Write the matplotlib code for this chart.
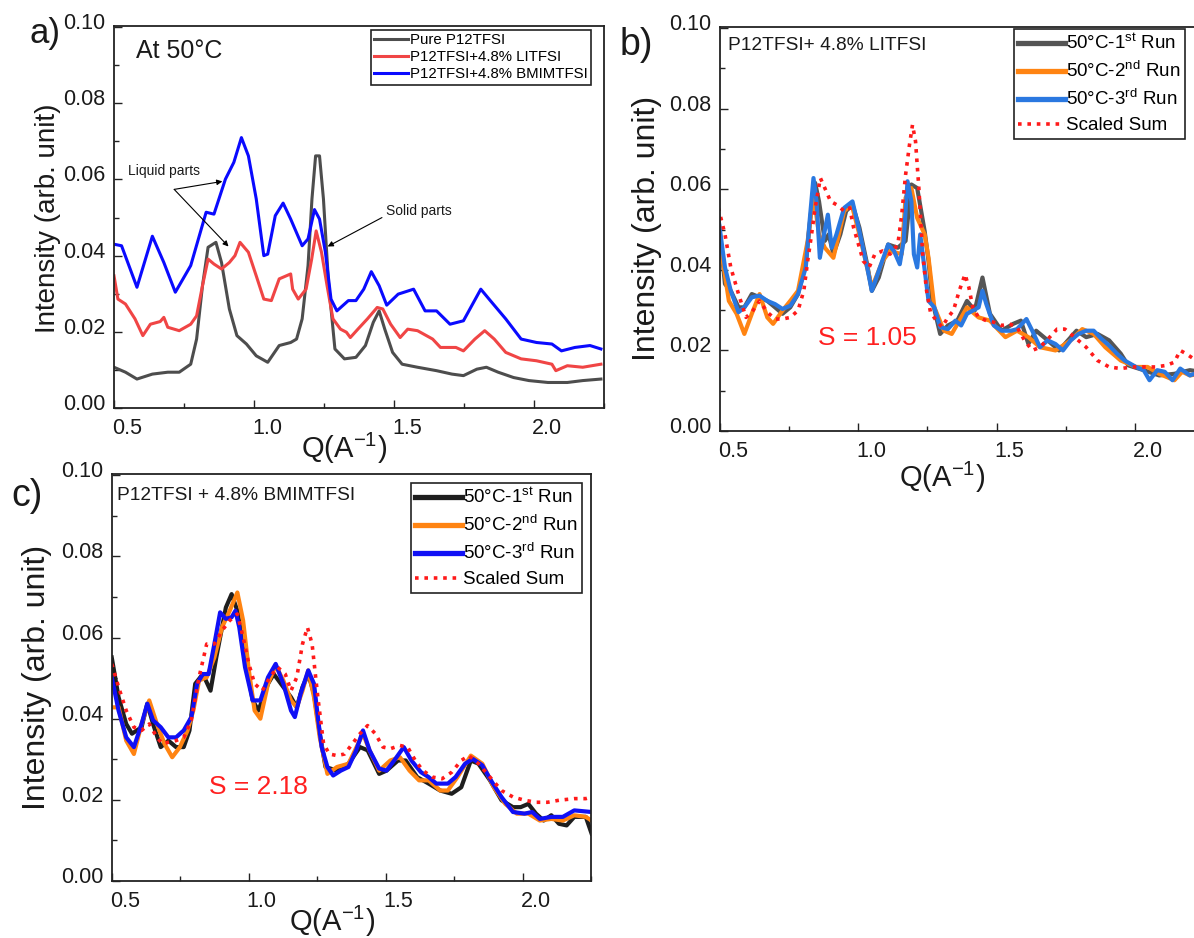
import matplotlib
matplotlib.use("Agg")
import matplotlib.pyplot as plt
from matplotlib.transforms import ScaledTranslation
from matplotlib.ticker import FixedLocator, FormatStrFormatter

plt.rcParams['font.family'] = ['Liberation Sans', 'DejaVu Sans']
plt.rcParams['mathtext.fontset'] = 'custom'
plt.rcParams['mathtext.rm'] = 'Liberation Sans'
plt.rcParams['mathtext.it'] = 'Liberation Sans:italic'
plt.rcParams['mathtext.bf'] = 'Liberation Sans:bold'

# ---------------- (a) SAXS/WAXS profiles at 50 °C ----------------
q_a_pure = [0.500, 0.541, 0.582, 0.637, 0.692, 0.733, 0.774, 0.795, 0.816, 0.836, 0.864, 0.884,
            0.912, 0.939, 0.973, 1.008, 1.049, 1.090, 1.131, 1.152, 1.172, 1.193, 1.207, 1.220,
            1.234, 1.248, 1.266, 1.289, 1.323, 1.364, 1.398, 1.426, 1.447, 1.467, 1.495, 1.529,
            1.584, 1.652, 1.707, 1.748, 1.796, 1.830, 1.872, 1.927, 1.982, 2.050, 2.119, 2.174, 2.239]
i_a_pure = [0.0107, 0.0094, 0.0076, 0.0089, 0.0094, 0.0094, 0.0115, 0.0181, 0.0321, 0.0422, 0.0435, 0.0382,
            0.0260, 0.0190, 0.0168, 0.0137, 0.0120, 0.0164, 0.0172, 0.0181, 0.0234, 0.0374, 0.0549, 0.0662,
            0.0662, 0.0549, 0.0330, 0.0155, 0.0129, 0.0133, 0.0164, 0.0225, 0.0255, 0.0207, 0.0146, 0.0115,
            0.0107, 0.0098, 0.0089, 0.0085, 0.0102, 0.0107, 0.0094, 0.0080, 0.0072, 0.0067, 0.0067, 0.0072, 0.0076]

q_a_li = [0.500, 0.514, 0.541, 0.575, 0.603, 0.630, 0.665, 0.678, 0.692, 0.733, 0.774, 0.795, 0.816,
          0.836, 0.857, 0.884, 0.912, 0.932, 0.950, 0.980, 1.008, 1.035, 1.062, 1.090, 1.131, 1.138,
          1.158, 1.186, 1.206, 1.222, 1.241, 1.261, 1.282, 1.309, 1.330, 1.344, 1.371, 1.405, 1.440,
          1.460, 1.488, 1.522, 1.549, 1.584, 1.638, 1.666, 1.721, 1.748, 1.789, 1.824, 1.858, 1.899,
          1.954, 2.009, 2.064, 2.078, 2.119, 2.174, 2.239]
i_a_li = [0.0347, 0.0286, 0.0273, 0.0234, 0.0190, 0.0220, 0.0227, 0.0238, 0.0212, 0.0203, 0.0220, 0.0242, 0.0321,
          0.0391, 0.0378, 0.0365, 0.0382, 0.0400, 0.0435, 0.0409, 0.0347, 0.0286, 0.0282, 0.0339, 0.0352, 0.0312,
          0.0286, 0.0312, 0.0391, 0.0465, 0.0409, 0.0321, 0.0234, 0.0207, 0.0199, 0.0185, 0.0207, 0.0234, 0.0264,
          0.0260, 0.0220, 0.0185, 0.0207, 0.0203, 0.0181, 0.0159, 0.0159, 0.0150, 0.0181, 0.0203, 0.0181, 0.0146,
          0.0129, 0.0124, 0.0115, 0.0098, 0.0111, 0.0107, 0.0115]

q_a_bmim = [0.500, 0.527, 0.582, 0.637, 0.678, 0.719, 0.774, 0.829, 0.857, 0.898, 0.928, 0.955, 0.980,
            1.008, 1.035, 1.049, 1.076, 1.104, 1.131, 1.172, 1.193, 1.216, 1.234, 1.255, 1.275, 1.296,
            1.337, 1.364, 1.392, 1.419, 1.447, 1.474, 1.515, 1.570, 1.611, 1.652, 1.700, 1.748, 1.810,
            1.844, 1.899, 1.954, 2.009, 2.064, 2.098, 2.146, 2.200, 2.239]
i_a_bmim = [0.0430, 0.0426, 0.0317, 0.0451, 0.0382, 0.0304, 0.0374, 0.0514, 0.0509, 0.0601, 0.0645, 0.0710, 0.0662,
            0.0549, 0.0400, 0.0404, 0.0505, 0.0538, 0.0496, 0.0426, 0.0444, 0.0521, 0.0496, 0.0409, 0.0286, 0.0255,
            0.0282, 0.0282, 0.0312, 0.0358, 0.0321, 0.0270, 0.0299, 0.0312, 0.0255, 0.0255, 0.0220, 0.0229, 0.0312,
            0.0282, 0.0234, 0.0181, 0.0172, 0.0168, 0.0150, 0.0159, 0.0164, 0.0155]

labels_a = ['Pure P12TFSI', 'P12TFSI+4.8% LITFSI', 'P12TFSI+4.8% BMIMTFSI']

# ---------------- (b) P12TFSI + 4.8% LiTFSI, repeated runs ----------------
q_b_run1 = [0.494, 0.518, 0.539, 0.567, 0.588, 0.615, 0.643, 0.671, 0.699, 0.726, 0.754, 0.782, 0.810,
            0.828, 0.844, 0.858, 0.879, 0.893, 0.910, 0.935, 0.956, 0.979, 1.004, 1.032, 1.049, 1.074,
            1.108, 1.143, 1.171, 1.192, 1.213, 1.240, 1.254, 1.268, 1.296, 1.324, 1.358, 1.393, 1.421,
            1.449, 1.476, 1.518, 1.560, 1.588, 1.615, 1.643, 1.685, 1.726, 1.789, 1.824, 1.865, 1.907,
            1.949, 1.976, 2.032, 2.088, 2.143, 2.199, 2.238]
i_b_run1 = [0.0529, 0.0365, 0.0348, 0.0307, 0.0307, 0.0340, 0.0332, 0.0323, 0.0307, 0.0291, 0.0307, 0.0340, 0.0414,
            0.0537, 0.0616, 0.0570, 0.0472, 0.0488, 0.0439, 0.0488, 0.0546, 0.0562, 0.0505, 0.0414, 0.0348, 0.0381,
            0.0463, 0.0455, 0.0472, 0.0612, 0.0603, 0.0496, 0.0422, 0.0323, 0.0241, 0.0262, 0.0274, 0.0323, 0.0299,
            0.0381, 0.0291, 0.0249, 0.0266, 0.0274, 0.0216, 0.0249, 0.0225, 0.0200, 0.0249, 0.0233, 0.0241, 0.0225,
            0.0192, 0.0163, 0.0151, 0.0138, 0.0142, 0.0151, 0.0147]

q_b_run2 = [0.494, 0.532, 0.560, 0.588, 0.615, 0.643, 0.671, 0.692, 0.726, 0.754, 0.782, 0.817, 0.838,
            0.858, 0.879, 0.910, 0.949, 0.976, 1.004, 1.049, 1.088, 1.115, 1.157, 1.171, 1.192, 1.213,
            1.240, 1.254, 1.275, 1.310, 1.338, 1.393, 1.435, 1.476, 1.504, 1.532, 1.574, 1.615, 1.657,
            1.713, 1.768, 1.810, 1.851, 1.893, 1.949, 2.004, 2.046, 2.088, 2.143, 2.171, 2.199, 2.238]
i_b_run2 = [0.0496, 0.0323, 0.0291, 0.0241, 0.0291, 0.0340, 0.0282, 0.0266, 0.0299, 0.0323, 0.0348, 0.0472, 0.0587,
            0.0488, 0.0455, 0.0430, 0.0546, 0.0562, 0.0488, 0.0356, 0.0422, 0.0447, 0.0439, 0.0579, 0.0603, 0.0529,
            0.0488, 0.0430, 0.0307, 0.0249, 0.0241, 0.0307, 0.0282, 0.0274, 0.0253, 0.0233, 0.0249, 0.0233, 0.0208,
            0.0200, 0.0225, 0.0253, 0.0241, 0.0208, 0.0175, 0.0159, 0.0159, 0.0142, 0.0126, 0.0147, 0.0138, 0.0142]

q_b_run3 = [0.494, 0.518, 0.539, 0.567, 0.588, 0.615, 0.643, 0.671, 0.699, 0.726, 0.754, 0.782, 0.810,
            0.824, 0.838, 0.849, 0.861, 0.876, 0.890, 0.904, 0.921, 0.949, 0.979, 1.004, 1.032, 1.049,
            1.074, 1.108, 1.129, 1.150, 1.164, 1.178, 1.192, 1.201, 1.213, 1.224, 1.233, 1.254, 1.275,
            1.296, 1.324, 1.351, 1.372, 1.393, 1.414, 1.435, 1.449, 1.463, 1.490, 1.518, 1.553, 1.574,
            1.608, 1.629, 1.657, 1.685, 1.713, 1.740, 1.768, 1.796, 1.824, 1.851, 1.879, 1.907, 1.935,
            1.963, 2.004, 2.032, 2.053, 2.081, 2.108, 2.136, 2.164, 2.199, 2.238]
i_b_run3 = [0.0529, 0.0406, 0.0348, 0.0295, 0.0307, 0.0332, 0.0336, 0.0323, 0.0315, 0.0303, 0.0311, 0.0340, 0.0406,
            0.0521, 0.0628, 0.0570, 0.0430, 0.0488, 0.0537, 0.0455, 0.0488, 0.0554, 0.0570, 0.0496, 0.0406, 0.0348,
            0.0398, 0.0463, 0.0447, 0.0414, 0.0472, 0.0620, 0.0570, 0.0439, 0.0406, 0.0488, 0.0439, 0.0323, 0.0307,
            0.0258, 0.0253, 0.0274, 0.0262, 0.0291, 0.0299, 0.0307, 0.0348, 0.0315, 0.0262, 0.0249, 0.0249, 0.0253,
            0.0278, 0.0249, 0.0208, 0.0225, 0.0216, 0.0200, 0.0225, 0.0241, 0.0249, 0.0249, 0.0229, 0.0212, 0.0192,
            0.0175, 0.0159, 0.0151, 0.0126, 0.0151, 0.0147, 0.0126, 0.0155, 0.0138, 0.0147]

q_b_sum = [0.494, 0.518, 0.539, 0.567, 0.594, 0.615, 0.643, 0.671, 0.699, 0.726, 0.754, 0.782, 0.803,
           0.817, 0.831, 0.844, 0.863, 0.879, 0.900, 0.921, 0.949, 0.969, 0.983, 0.997, 1.018, 1.039,
           1.060, 1.088, 1.115, 1.143, 1.157, 1.171, 1.185, 1.196, 1.207, 1.219, 1.233, 1.247, 1.261,
           1.282, 1.303, 1.324, 1.344, 1.365, 1.386, 1.400, 1.414, 1.435, 1.463, 1.490, 1.518, 1.546,
           1.574, 1.601, 1.629, 1.657, 1.692, 1.719, 1.747, 1.782, 1.824, 1.865, 1.907, 1.949, 1.990,
           2.032, 2.074, 2.115, 2.143, 2.164, 2.185, 2.213, 2.238]
i_b_sum = [0.0554, 0.0488, 0.0406, 0.0340, 0.0282, 0.0295, 0.0323, 0.0295, 0.0278, 0.0278, 0.0282, 0.0299, 0.0348,
           0.0422, 0.0488, 0.0554, 0.0628, 0.0603, 0.0570, 0.0562, 0.0546, 0.0554, 0.0505, 0.0472, 0.0422, 0.0406,
           0.0439, 0.0447, 0.0439, 0.0463, 0.0537, 0.0636, 0.0710, 0.0760, 0.0719, 0.0603, 0.0439, 0.0348, 0.0295,
           0.0274, 0.0258, 0.0282, 0.0299, 0.0348, 0.0389, 0.0356, 0.0307, 0.0282, 0.0274, 0.0270, 0.0262, 0.0266,
           0.0258, 0.0225, 0.0200, 0.0208, 0.0233, 0.0253, 0.0253, 0.0233, 0.0208, 0.0175, 0.0159, 0.0155, 0.0159,
           0.0159, 0.0159, 0.0163, 0.0171, 0.0200, 0.0192, 0.0179, 0.0184]
s_b = 1.05

# ---------------- (c) P12TFSI + 4.8% BMIMTFSI, repeated runs ----------------
q_c_run1 = [0.499, 0.524, 0.552, 0.573, 0.608, 0.629, 0.650, 0.678, 0.706, 0.734, 0.762, 0.783, 0.804,
            0.832, 0.860, 0.881, 0.916, 0.937, 0.958, 0.986, 1.014, 1.035, 1.070, 1.091, 1.126, 1.154,
            1.175, 1.196, 1.217, 1.238, 1.259, 1.280, 1.322, 1.364, 1.406, 1.434, 1.476, 1.503, 1.545,
            1.573, 1.615, 1.657, 1.699, 1.741, 1.776, 1.811, 1.839, 1.881, 1.923, 1.965, 1.993, 2.021,
            2.049, 2.077, 2.105, 2.133, 2.161, 2.189, 2.231, 2.252]
i_c_run1 = [0.0551, 0.0453, 0.0387, 0.0363, 0.0379, 0.0437, 0.0387, 0.0330, 0.0346, 0.0330, 0.0330, 0.0371, 0.0486,
            0.0510, 0.0469, 0.0551, 0.0674, 0.0707, 0.0666, 0.0551, 0.0445, 0.0420, 0.0486, 0.0510, 0.0478, 0.0453,
            0.0428, 0.0478, 0.0510, 0.0461, 0.0363, 0.0281, 0.0272, 0.0289, 0.0330, 0.0322, 0.0264, 0.0272, 0.0297,
            0.0297, 0.0256, 0.0240, 0.0223, 0.0215, 0.0231, 0.0297, 0.0289, 0.0248, 0.0199, 0.0182, 0.0182, 0.0190,
            0.0166, 0.0149, 0.0162, 0.0141, 0.0137, 0.0158, 0.0158, 0.0117]

q_c_run2 = [0.499, 0.524, 0.552, 0.580, 0.608, 0.636, 0.664, 0.692, 0.720, 0.748, 0.776, 0.797, 0.818,
            0.846, 0.874, 0.902, 0.930, 0.958, 0.979, 1.000, 1.021, 1.042, 1.070, 1.098, 1.126, 1.154,
            1.175, 1.196, 1.217, 1.238, 1.259, 1.287, 1.322, 1.364, 1.417, 1.441, 1.476, 1.517, 1.552,
            1.587, 1.622, 1.657, 1.699, 1.727, 1.762, 1.811, 1.853, 1.895, 1.937, 1.979, 2.021, 2.063,
            2.105, 2.147, 2.189, 2.231, 2.252]
i_c_run2 = [0.0428, 0.0428, 0.0346, 0.0313, 0.0387, 0.0445, 0.0387, 0.0338, 0.0305, 0.0330, 0.0371, 0.0420, 0.0494,
            0.0502, 0.0551, 0.0625, 0.0666, 0.0711, 0.0642, 0.0519, 0.0420, 0.0400, 0.0486, 0.0531, 0.0494, 0.0445,
            0.0428, 0.0469, 0.0519, 0.0453, 0.0354, 0.0264, 0.0281, 0.0289, 0.0363, 0.0322, 0.0272, 0.0297, 0.0305,
            0.0272, 0.0248, 0.0248, 0.0223, 0.0223, 0.0256, 0.0309, 0.0289, 0.0231, 0.0190, 0.0166, 0.0166, 0.0149,
            0.0153, 0.0149, 0.0162, 0.0158, 0.0149]

q_c_run3 = [0.499, 0.524, 0.552, 0.580, 0.608, 0.629, 0.650, 0.678, 0.706, 0.734, 0.762, 0.790, 0.811,
            0.832, 0.853, 0.874, 0.895, 0.916, 0.937, 0.951, 0.965, 0.986, 1.014, 1.042, 1.070, 1.098,
            1.126, 1.154, 1.168, 1.189, 1.217, 1.238, 1.252, 1.266, 1.287, 1.308, 1.336, 1.364, 1.392,
            1.417, 1.441, 1.476, 1.503, 1.531, 1.566, 1.594, 1.629, 1.657, 1.685, 1.727, 1.755, 1.790,
            1.818, 1.853, 1.888, 1.923, 1.965, 2.007, 2.035, 2.063, 2.105, 2.147, 2.189, 2.252]
i_c_run3 = [0.0502, 0.0420, 0.0354, 0.0330, 0.0387, 0.0437, 0.0396, 0.0379, 0.0354, 0.0354, 0.0371, 0.0404, 0.0486,
            0.0510, 0.0510, 0.0584, 0.0662, 0.0646, 0.0650, 0.0666, 0.0625, 0.0527, 0.0445, 0.0445, 0.0502, 0.0535,
            0.0486, 0.0420, 0.0404, 0.0461, 0.0519, 0.0486, 0.0404, 0.0330, 0.0281, 0.0260, 0.0272, 0.0281, 0.0322,
            0.0371, 0.0322, 0.0277, 0.0272, 0.0297, 0.0330, 0.0297, 0.0268, 0.0256, 0.0240, 0.0240, 0.0256, 0.0289,
            0.0301, 0.0285, 0.0244, 0.0207, 0.0170, 0.0166, 0.0170, 0.0153, 0.0158, 0.0158, 0.0174, 0.0170]

q_c_sum = [0.499, 0.524, 0.552, 0.580, 0.608, 0.636, 0.664, 0.685, 0.706, 0.734, 0.762, 0.790, 0.818,
           0.846, 0.874, 0.902, 0.930, 0.958, 0.979, 1.000, 1.021, 1.049, 1.077, 1.105, 1.133, 1.154,
           1.175, 1.196, 1.214, 1.231, 1.252, 1.273, 1.294, 1.322, 1.350, 1.378, 1.406, 1.434, 1.462,
           1.490, 1.517, 1.552, 1.580, 1.608, 1.636, 1.671, 1.706, 1.741, 1.776, 1.804, 1.839, 1.881,
           1.923, 1.965, 2.007, 2.049, 2.091, 2.133, 2.189, 2.231, 2.252]
i_c_sum = [0.0535, 0.0478, 0.0420, 0.0379, 0.0371, 0.0387, 0.0354, 0.0338, 0.0342, 0.0346, 0.0354, 0.0396, 0.0502,
           0.0584, 0.0584, 0.0617, 0.0642, 0.0658, 0.0601, 0.0535, 0.0486, 0.0469, 0.0502, 0.0527, 0.0510, 0.0469,
           0.0502, 0.0584, 0.0625, 0.0584, 0.0453, 0.0338, 0.0313, 0.0309, 0.0313, 0.0338, 0.0363, 0.0383, 0.0363,
           0.0330, 0.0326, 0.0334, 0.0330, 0.0297, 0.0272, 0.0256, 0.0252, 0.0268, 0.0297, 0.0309, 0.0289, 0.0256,
           0.0223, 0.0207, 0.0199, 0.0194, 0.0194, 0.0199, 0.0203, 0.0203, 0.0207]
s_c = 2.18

run_labels = ['50°C-1$^{\\mathregular{st}}$ Run', '50°C-2$^{\\mathregular{nd}}$ Run',
              '50°C-3$^{\\mathregular{rd}}$ Run', 'Scaled Sum']

# ---------------- figure ----------------
W, H = 1194, 938
fig = plt.figure(figsize=(W / 100, H / 100), dpi=100)


def fxy(x, y):
    return x / W, 1 - y / H


def add_axes_px(left, top, right, bottom):
    return fig.add_axes([left / W, 1 - bottom / H, (right - left) / W, (bottom - top) / H])


ax_a = add_axes_px(114, 26, 604, 408)
ax_b = add_axes_px(720, 27, 1204, 431)
ax_c = add_axes_px(112, 474, 591, 881)

INK = '#222222'


def style_axes(ax, ylab_xy, ylab_size, xlab_xy):
    ax.set_xlim(0.5, 2.25)
    ax.set_ylim(0, 0.1003)
    ax.xaxis.set_major_locator(FixedLocator([0.5, 1.0, 1.5, 2.0]))
    ax.xaxis.set_minor_locator(FixedLocator([0.75, 1.25, 1.75, 2.25]))
    ax.yaxis.set_major_locator(FixedLocator([0.0, 0.02, 0.04, 0.06, 0.08, 0.10]))
    ax.yaxis.set_minor_locator(FixedLocator([0.01, 0.03, 0.05, 0.07, 0.09]))
    ax.xaxis.set_major_formatter(FormatStrFormatter('%.1f'))
    ax.yaxis.set_major_formatter(FormatStrFormatter('%.2f'))
    ax.tick_params(which='both', direction='in', top=False, right=False, color=INK, width=1.0)
    ax.tick_params(which='major', length=5.5, labelsize=15.5, labelcolor='#1a1a1a')
    ax.tick_params(which='minor', length=3.5)
    ax.tick_params(axis='x', pad=7)
    ax.tick_params(axis='y', pad=6)
    for sp in ax.spines.values():
        sp.set_linewidth(1.3)
        sp.set_color(INK)
    shift_x = ScaledTranslation(0.13, 0, fig.dpi_scale_trans)
    shift_y = ScaledTranslation(0, 0.06, fig.dpi_scale_trans)
    for lab in ax.get_xticklabels():
        lab.set_transform(lab.get_transform() + shift_x)
    for lab in ax.get_yticklabels():
        lab.set_transform(lab.get_transform() + shift_y)
    ax.set_ylabel('Intensity (arb. unit)', fontsize=ylab_size, va='center', color='#1a1a1a')
    ax.yaxis.set_label_coords(*ylab_xy)
    ax.set_xlabel('Q(A$^{\\mathregular{-1}}$)', fontsize=21, va='center', color='#1a1a1a')
    ax.xaxis.set_label_coords(*xlab_xy)


# (a)
ax_a.plot(q_a_pure, i_a_pure, color='#4d4d4d', lw=2.2, label=labels_a[0])
ax_a.plot(q_a_li, i_a_li, color='#f04545', lw=2.2, label=labels_a[1])
ax_a.plot(q_a_bmim, i_a_bmim, color='#0a0aff', lw=2.2, label=labels_a[2])
style_axes(ax_a, (-0.135, 0.497), 20, (0.469, -0.105))
leg_a = ax_a.legend(loc='upper right', bbox_to_anchor=fxy(591, 30), bbox_transform=fig.transFigure,
                    borderaxespad=0, fontsize=10.8, fancybox=False, framealpha=1, edgecolor=INK,
                    handlelength=2.3, handletextpad=0.1, borderpad=0.22, labelspacing=0.2)
leg_a.get_frame().set_linewidth(1.2)
ax_a.text(*fxy(136, 51), 'At 50°C', transform=fig.transFigure, fontsize=18, ha='left', va='center',
          color='#1a1a1a')
arrow = dict(arrowstyle='-|>', color='black', lw=0.8, mutation_scale=8, shrinkA=0, shrinkB=0)
ax_a.text(0.55, 0.0621, 'Liquid parts', fontsize=10, ha='left', va='center', color='#1a1a1a')
ax_a.annotate('', xy=(0.887, 0.0595), xytext=(0.715, 0.0574), arrowprops=arrow)
ax_a.annotate('', xy=(0.909, 0.0424), xytext=(0.715, 0.0574), arrowprops=arrow)
ax_a.text(1.471, 0.0516, 'Solid parts', fontsize=10, ha='left', va='center', color='#1a1a1a')
ax_a.annotate('', xy=(1.263, 0.0424), xytext=(1.457, 0.0500), arrowprops=arrow)


def runs_panel(ax, q1, i1, q2, i2, q3, i3, qs, is_, blue, dark, legend_ur):
    ax.plot(q1, i1, color=dark, lw=3.0, label=run_labels[0])
    ax.plot(q2, i2, color='#ff8412', lw=3.0, label=run_labels[1])
    ax.plot(q3, i3, color=blue, lw=3.0, label=run_labels[2])
    ax.plot(qs, is_, color='#ff1a1a', lw=2.6, ls=(0, (1, 1.6)), label=run_labels[3])
    leg = ax.legend(loc='upper right', bbox_to_anchor=fxy(*legend_ur), bbox_transform=fig.transFigure,
                    borderaxespad=0, fontsize=13.5, fancybox=False, framealpha=1, edgecolor=INK,
                    handlelength=2.5, handletextpad=0.05, borderpad=0.25, labelspacing=0.42)
    leg.get_frame().set_linewidth(1.2)
    for ln in leg.get_lines()[:3]:
        ln.set_linewidth(3.8)


# (b)
runs_panel(ax_b, q_b_run1, i_b_run1, q_b_run2, i_b_run2, q_b_run3, i_b_run3, q_b_sum, i_b_sum,
           '#2a78e0', '#555555', (1185, 29))
style_axes(ax_b, (-0.151, 0.502), 23, (0.459, -0.114))
ax_b.text(*fxy(728, 45), 'P12TFSI+ 4.8% LITFSI', transform=fig.transFigure, fontsize=13.8,
          ha='left', va='center', color='#1a1a1a')
ax_b.text(*fxy(818, 338), f'S = {s_b:.2f}', transform=fig.transFigure, fontsize=19,
          ha='left', va='center', color='#ff2020')

# (c)
runs_panel(ax_c, q_c_run1, i_c_run1, q_c_run2, i_c_run2, q_c_run3, i_c_run3, q_c_sum, i_c_sum,
           '#1010f5', '#1e1e1e', (582, 483))
style_axes(ax_c, (-0.157, 0.501), 23, (0.459, -0.10))
ax_c.text(*fxy(117, 495), 'P12TFSI + 4.8% BMIMTFSI', transform=fig.transFigure, fontsize=13.8,
          ha='left', va='center', color='#1a1a1a')
ax_c.text(*fxy(209, 787), f'S = {s_c:.2f}', transform=fig.transFigure, fontsize=19,
          ha='left', va='center', color='#ff2020')

# panel letters
fig.text(*fxy(45, 34), 'a)', fontsize=25, ha='center', va='center', color='#1a1a1a')
fig.text(*fxy(636, 45), 'b)', fontsize=27, ha='center', va='center', color='#1a1a1a')
fig.text(*fxy(27, 496), 'c)', fontsize=27, ha='center', va='center', color='#1a1a1a')

fig.savefig('out.png', dpi=100)
